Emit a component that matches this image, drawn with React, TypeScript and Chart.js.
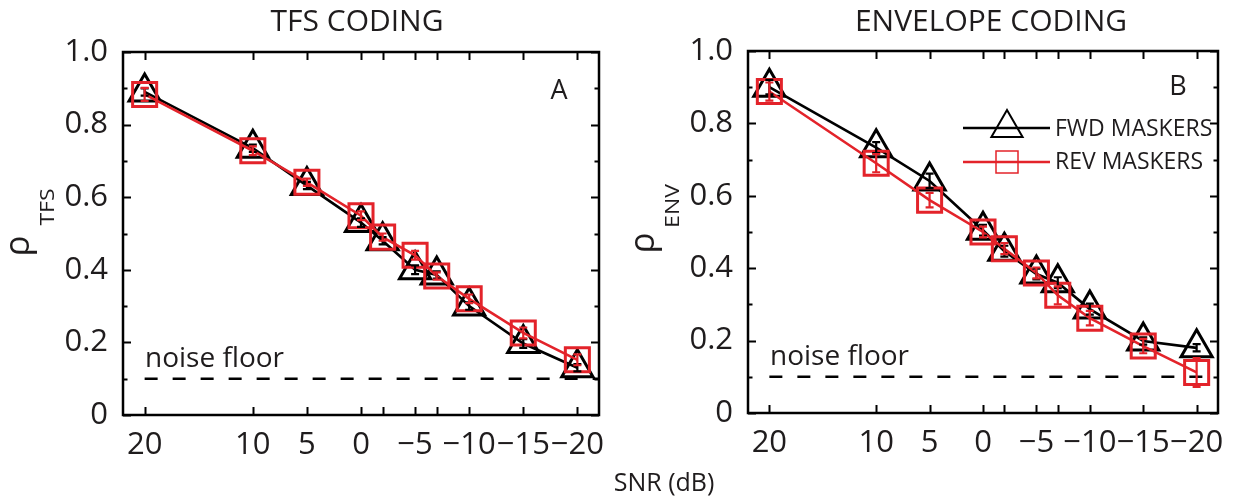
import React, { useEffect, useRef } from 'react';
import { Chart, registerables } from 'chart.js';

Chart.register(...registerables);

// ---------- data ----------
const SNR = [20, 10, 5, 0, -2, -5, -7, -10, -15, -20];
const X_TICKS = [20, 10, 5, 0, -2, -5, -7, -10, -15, -20];
const X_LABELED = [20, 10, 5, 0, -5, -10, -15, -20];
const Y_MAJOR = [0, 0.2, 0.4, 0.6, 0.8, 1.0];
const Y_MINOR = [0.1, 0.3, 0.5, 0.7, 0.9];

const TFS_FWD = [0.89, 0.735, 0.632, 0.53, 0.48, 0.4, 0.386, 0.3, 0.197, 0.13];
const TFS_FWD_ERR = [0.01, 0.01, 0.01, 0.012, 0.01, 0.012, 0.01, 0.01, 0.012, 0.01];
const TFS_REV = [0.883, 0.728, 0.641, 0.549, 0.49, 0.44, 0.383, 0.32, 0.226, 0.152];
const TFS_REV_ERR = [0.018, 0.012, 0.01, 0.012, 0.01, 0.012, 0.01, 0.012, 0.015, 0.015];

const ENV_FWD = [0.9, 0.733, 0.641, 0.505, 0.447, 0.384, 0.36, 0.287, 0.199, 0.18];
const ENV_FWD_ERR = [0.02, 0.015, 0.02, 0.015, 0.015, 0.015, 0.015, 0.015, 0.01, 0.01];
const ENV_REV = [0.888, 0.69, 0.588, 0.5, 0.454, 0.387, 0.325, 0.262, 0.185, 0.112];
const ENV_REV_ERR = [0.025, 0.025, 0.02, 0.015, 0.015, 0.015, 0.025, 0.02, 0.02, 0.04];

const NOISE_X = [20, -22];
const NOISE_FLOOR = 0.1;

// ---------- style ----------
const RED = '#e3232a';
const INK = '#1f1c1d';
const FONT = '"Open Sans", "Noto Sans", sans-serif';

const PANELS = [
  {
    key: 'tfs', title: 'TFS CODING', letter: 'A', sub: 'TFS',
    fwd: TFS_FWD, fwdErr: TFS_FWD_ERR, rev: TFS_REV, revErr: TFS_REV_ERR,
    legend: false,
    left: 0, width: 620, yAxisWidth: 123, padTop: 52, padRight: 13, xAxisHeight: 85,
    titleX: 357, letterDY: 39, rhoX: 29, rhoY: 246, subX: 54, subY: 207,
  },
  {
    key: 'env', title: 'ENVELOPE CODING', letter: 'B', sub: 'ENV',
    fwd: ENV_FWD, fwdErr: ENV_FWD_ERR, rev: ENV_REV, revErr: ENV_REV_ERR,
    legend: true,
    left: 620, width: 619, yAxisWidth: 128, padTop: 51, padRight: 7, xAxisHeight: 87,
    titleX: 371, letterDY: 36, rhoX: 34, rhoY: 243, subX: 59, subY: 206,
  },
];

const fmtX = (v: number) => (v < 0 ? '\u2212' + Math.abs(v) : String(v));

function drawTriangle(ctx: CanvasRenderingContext2D, x: number, y: number, r: number) {
  const w = r * Math.sin(Math.PI / 3 * 2);
  ctx.beginPath();
  ctx.moveTo(x, y - r);
  ctx.lineTo(x + w, y + r / 2);
  ctx.lineTo(x - w, y + r / 2);
  ctx.closePath();
  ctx.stroke();
}

function makePlugin(p: any) {
  return {
    id: 'decor_' + p.key,
    beforeDatasetsDraw(chart: any) {
      const { ctx, chartArea: ca, scales } = chart;
      const xs = scales.x, ys = scales.y;
      ctx.save();
      ctx.strokeStyle = '#000';
      ctx.lineWidth = 2;
      ctx.beginPath();
      X_TICKS.forEach((v) => {
        const px = Math.round(xs.getPixelForValue(v)) + 0.5;
        ctx.moveTo(px, ca.bottom); ctx.lineTo(px, ca.bottom - 8);
        ctx.moveTo(px, ca.top); ctx.lineTo(px, ca.top + 8);
      });
      Y_MAJOR.forEach((v) => {
        const py = Math.round(ys.getPixelForValue(v)) + 0.5;
        ctx.moveTo(ca.left, py); ctx.lineTo(ca.left + 8, py);
        ctx.moveTo(ca.right, py); ctx.lineTo(ca.right - 8, py);
      });
      Y_MINOR.forEach((v) => {
        const py = Math.round(ys.getPixelForValue(v)) + 0.5;
        ctx.moveTo(ca.left, py); ctx.lineTo(ca.left + 4.5, py);
        ctx.moveTo(ca.right, py); ctx.lineTo(ca.right - 4.5, py);
      });
      ctx.stroke();
      ctx.restore();
    },
    afterDatasetsDraw(chart: any) {
      const { ctx, scales } = chart;
      const xs = scales.x, ys = scales.y;
      const series = [
        { vals: p.fwd, errs: p.fwdErr, color: '#000' },
        { vals: p.rev, errs: p.revErr, color: RED },
      ];
      ctx.save();
      ctx.lineWidth = 2.2;
      series.forEach((s) => {
        ctx.strokeStyle = s.color;
        ctx.beginPath();
        SNR.forEach((xv, i) => {
          const px = xs.getPixelForValue(xv);
          const y0 = ys.getPixelForValue(s.vals[i] - s.errs[i]);
          const y1 = ys.getPixelForValue(s.vals[i] + s.errs[i]);
          ctx.moveTo(px, y0); ctx.lineTo(px, y1);
          ctx.moveTo(px - 4, y0); ctx.lineTo(px + 4, y0);
          ctx.moveTo(px - 4, y1); ctx.lineTo(px + 4, y1);
        });
        ctx.stroke();
      });
      const ca = chart.chartArea;
      ctx.strokeStyle = '#000';
      ctx.lineWidth = 2.5;
      ctx.strokeRect(ca.left, ca.top, ca.right - ca.left, ca.bottom - ca.top);
      ctx.restore();
    },
    afterDraw(chart: any) {
      const { ctx, chartArea: ca } = chart;
      ctx.save();
      ctx.fillStyle = INK;
      ctx.font = `30px ${FONT}`;
      ctx.textAlign = 'center';
      ctx.textBaseline = 'middle';
      ctx.fillText(p.title, p.titleX, 22);
      ctx.font = `27px ${FONT}`;
      ctx.fillText(p.letter, ca.right - 40, ca.top + p.letterDY);
      ctx.textAlign = 'left';
      ctx.textBaseline = 'alphabetic';
      ctx.font = `28px ${FONT}`;
      ctx.fillText('noise floor', ca.left + 22, ca.bottom - 48);
      ctx.save();
      ctx.translate(p.rhoX, p.rhoY);
      ctx.rotate(-Math.PI / 2);
      ctx.font = `35px ${FONT}`;
      ctx.textAlign = 'center';
      ctx.fillText('\u03c1', 0, 0);
      ctx.restore();
      ctx.save();
      ctx.translate(p.subX, p.subY);
      ctx.rotate(-Math.PI / 2);
      ctx.scale(1.15, 1);
      ctx.font = `20px ${FONT}`;
      ctx.textAlign = 'center';
      ctx.fillText(p.sub, 0, 0);
      ctx.restore();
      if (p.legend) {
        const lx0 = ca.left + 215, lx1 = ca.left + 302, mx = ca.left + 259;
        const yF = ca.top + 77, yR = ca.top + 111;
        ctx.lineWidth = 2.5;
        ctx.strokeStyle = '#000';
        ctx.beginPath(); ctx.moveTo(lx0, yF); ctx.lineTo(lx1, yF); ctx.stroke();
        ctx.lineWidth = 2;
        drawTriangle(ctx, mx, yF, 18);
        ctx.strokeStyle = RED;
        ctx.lineWidth = 2.5;
        ctx.beginPath(); ctx.moveTo(lx0, yR); ctx.lineTo(lx1, yR); ctx.stroke();
        ctx.lineWidth = 1.5;
        ctx.strokeRect(mx - 11, yR - 11, 22, 22);
        ctx.font = `23px ${FONT}`;
        ctx.textBaseline = 'middle';
        ctx.textAlign = 'left';
        ctx.fillText('FWD MASKERS', lx1 + 5, yF + 1);
        ctx.fillText('REV MASKERS', lx1 + 5, yR);
      }
      ctx.restore();
    },
  };
}

function makeConfig(p: any): any {
  return {
    type: 'line',
    data: {
      datasets: [
        {
          label: 'REV MASKERS',
          data: SNR.map((x, i) => ({ x, y: p.rev[i] })),
          borderColor: RED,
          borderWidth: 2.6,
          pointStyle: 'rect',
          pointRadius: 17,
          pointBorderWidth: 3,
          pointBorderColor: RED,
          pointBackgroundColor: 'rgba(0,0,0,0)',
          tension: 0,
          order: 0,
          clip: false,
        },
        {
          label: 'FWD MASKERS',
          data: SNR.map((x, i) => ({ x, y: p.fwd[i] })),
          borderColor: '#000',
          borderWidth: 2.6,
          pointStyle: 'triangle',
          pointRadius: 18,
          pointBorderWidth: 3,
          pointBorderColor: '#000',
          pointBackgroundColor: 'rgba(0,0,0,0)',
          tension: 0,
          order: 1,
          clip: false,
        },
        {
          label: 'noise floor',
          data: NOISE_X.map((x) => ({ x, y: NOISE_FLOOR })),
          borderColor: '#000',
          borderWidth: 2.5,
          borderDash: [13, 15],
          pointRadius: 0,
          order: 2,
        },
      ],
    },
    options: {
      responsive: false,
      animation: false,
      layout: { padding: { left: 0, top: p.padTop, right: p.padRight, bottom: 0 } },
      plugins: {
        legend: { display: false },
        tooltip: { enabled: false },
        title: { display: false },
      },
      scales: {
        x: {
          type: 'linear',
          reverse: true,
          min: -22,
          max: 22,
          afterBuildTicks: (s: any) => { s.ticks = X_TICKS.map((v) => ({ value: v })); },
          afterFit: (s: any) => { s.height = p.xAxisHeight; },
          grid: { display: false, drawTicks: false },
          border: { display: false },
          ticks: {
            autoSkip: false,
            maxRotation: 0,
            minRotation: 0,
            padding: 12,
            color: INK,
            font: { family: FONT, size: 31 },
            callback: (v: number) => (X_LABELED.includes(v) ? fmtX(v) : ''),
          },
        },
        y: {
          type: 'linear',
          min: 0,
          max: 1,
          afterBuildTicks: (s: any) => { s.ticks = Y_MAJOR.map((v) => ({ value: v })); },
          afterFit: (s: any) => { s.width = p.yAxisWidth; },
          grid: { display: false, drawTicks: false },
          border: { display: false },
          ticks: {
            padding: 15,
            color: INK,
            font: { family: FONT, size: 31 },
            callback: (v: number) => (v === 0 ? '0' : v.toFixed(1)),
          },
        },
      },
    },
    plugins: [makePlugin(p)],
  };
}

function Panel({ p }: { p: any }) {
  const ref = useRef<HTMLCanvasElement>(null);
  useEffect(() => {
    const chart = new Chart(ref.current as HTMLCanvasElement, makeConfig(p));
    return () => chart.destroy();
  }, [p]);
  return (
    <canvas
      ref={ref}
      width={p.width}
      height={500}
      style={{ position: 'absolute', left: p.left, top: 0, width: p.width, height: 500, display: 'block' }}
    />
  );
}

export default function App() {
  return (
    <div style={{ position: 'absolute', left: 0, top: 0, width: 1239, height: 500, background: '#fff', overflow: 'hidden' }}>
      {PANELS.map((p) => (
        <Panel key={p.key} p={p} />
      ))}
      <div
        style={{
          position: 'absolute', left: 560, top: 466, width: 208, textAlign: 'center',
          font: `25px ${FONT}`, lineHeight: '30px', color: INK,
        }}
      >
        SNR (dB)
      </div>
    </div>
  );
}
